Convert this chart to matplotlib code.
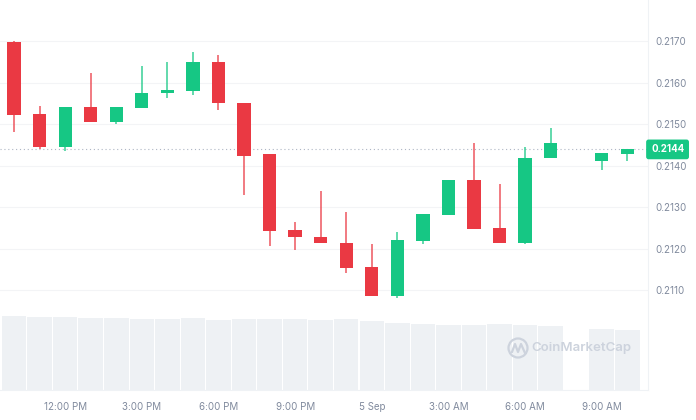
import matplotlib
matplotlib.use("Agg")
import matplotlib.pyplot as plt
from matplotlib.patches import Ellipse
from matplotlib.lines import Line2D

# hours counted from 4 Sep 00:00 (8 AM on 5 Sep has no candle)
hours = [10, 11, 12, 13, 14, 15, 16, 17, 18, 19, 20, 21, 22, 23, 24, 25, 26, 27, 28, 29, 30, 31, 33, 34]
opens = [0.21698, 0.21525, 0.21445, 0.21542, 0.21506, 0.21540, 0.21575, 0.21581, 0.21651, 0.21553,
         0.21428, 0.21245, 0.21230, 0.21215, 0.21156, 0.21087, 0.21220, 0.21282, 0.21366, 0.21250,
         0.21215, 0.21419, 0.21413, 0.21430]
highs = [0.21700, 0.21544, 0.21542, 0.21624, 0.21542, 0.21641, 0.21651, 0.21675, 0.21668, 0.21553,
         0.21428, 0.21264, 0.21340, 0.21288, 0.21212, 0.21242, 0.21284, 0.21366, 0.21456, 0.21357,
         0.21445, 0.21491, 0.21431, 0.21440]
lows = [0.21481, 0.21441, 0.21437, 0.21506, 0.21501, 0.21540, 0.21565, 0.21570, 0.21536, 0.21330,
        0.21206, 0.21198, 0.21214, 0.21141, 0.21087, 0.21081, 0.21212, 0.21282, 0.21248, 0.21215,
        0.21212, 0.21419, 0.21390, 0.21413]
closes = [0.21523, 0.21445, 0.21542, 0.21506, 0.21542, 0.21577, 0.21583, 0.21651, 0.21552, 0.21425,
          0.21243, 0.21230, 0.21214, 0.21154, 0.21087, 0.21222, 0.21284, 0.21366, 0.21248, 0.21215,
          0.21420, 0.21455, 0.21431, 0.21440]
volumes = [7.4, 7.35, 7.3, 7.2, 7.2, 7.1, 7.1, 7.25, 7.0, 7.1, 7.1, 7.15, 7.05, 7.1, 6.93, 6.67,
           6.6, 6.5, 6.5, 6.6, 6.5, 6.4, 6.1, 6.05]
tick_hours = [12, 15, 18, 21, 24, 27, 30, 33]
tick_labels = ["12:00 PM", "3:00 PM", "6:00 PM", "9:00 PM", "5 Sep", "3:00 AM", "6:00 AM", "9:00 AM"]
price_ticks = [0.2110, 0.2120, 0.2130, 0.2140, 0.2150, 0.2160, 0.2170]
last_price = 0.2144

GREEN = "#16C784"
RED = "#EA3943"
TEXT = "#808A9D"
LINE = "#EFF2F5"

plt.rcParams["font.family"] = ["Inter", "DejaVu Sans"]

fig = plt.figure(figsize=(6.96, 4.2), dpi=100)
rect = [0.0, 1 - 390 / 420, 648 / 696, 390 / 420]

# volume underneath
ax_vol = fig.add_axes(rect)
ax_vol.bar(hours, volumes, width=0.96, color="#EEF1F4", zorder=1)
ax_vol.set_ylim(0, 39)
ax_vol.set_xlim(9.45, 34.81)
ax_vol.axis("off")

# price candles on top
ax = fig.add_axes(rect, sharex=ax_vol)
ax.set_facecolor("none")
ax.set_ylim(0.208602, 0.218000)
for y in price_ticks:
    ax.axhline(y, color="#F3F4F6", lw=0.8, zorder=0)
ax.axhline(last_price, color="#AEB6C4", lw=0.8, ls=(0, (1, 2.5)), zorder=1)

for h, o, hi, lo, c in zip(hours, opens, highs, lows, closes):
    col = GREEN if c >= o else RED
    ax.vlines(h, lo, hi, color=col, lw=1.1, alpha=0.85, zorder=2)
    body = max(abs(c - o), 0.00004)
    ax.bar(h, body, bottom=min(o, c), width=0.52, color=col, zorder=3)

ax.yaxis.tick_right()
ax.set_yticks(price_ticks)
ax.set_yticklabels([f"{p:.4f}" for p in price_ticks])
ax.set_xticks(tick_hours)
ax.set_xticklabels(tick_labels)
ax.tick_params(axis="both", length=0, labelsize=7, labelcolor=TEXT)
ax.tick_params(axis="y", pad=5)
ax.tick_params(axis="x", pad=9)
for side in ["top", "left"]:
    ax.spines[side].set_visible(False)
for side in ["right", "bottom"]:
    ax.spines[side].set_color(LINE)
    ax.spines[side].set_linewidth(0.8)

ax.annotate(f"{last_price:.4f}", xy=(1.0, last_price), xycoords=ax.get_yaxis_transform(),
            xytext=(3, 0), textcoords="offset pixels", ha="left", va="center",
            color="white", fontsize=7, fontweight="bold", zorder=5, annotation_clip=False,
            bbox=dict(boxstyle="round,pad=0.5,rounding_size=0.25", fc=GREEN, ec="none"))

# watermark
wm = "#CDD3DD"
fig.add_artist(Ellipse((518 / 696, 1 - 348 / 420), 19 / 696, 19 / 420, transform=fig.transFigure,
                       fill=False, ec=wm, lw=1.6))
fig.add_artist(Line2D([512 / 696, 515 / 696, 518 / 696, 521 / 696, 525 / 696],
                      [1 - 352 / 420, 1 - 344 / 420, 1 - 352 / 420, 1 - 344 / 420, 1 - 353 / 420],
                      transform=fig.transFigure, color=wm, lw=1.6))
fig.text(531 / 696, 1 - 348 / 420, "CoinMarketCap", color=wm, fontsize=9.5, fontweight="semibold",
         ha="left", va="center")

fig.savefig("out.png", dpi=100)
